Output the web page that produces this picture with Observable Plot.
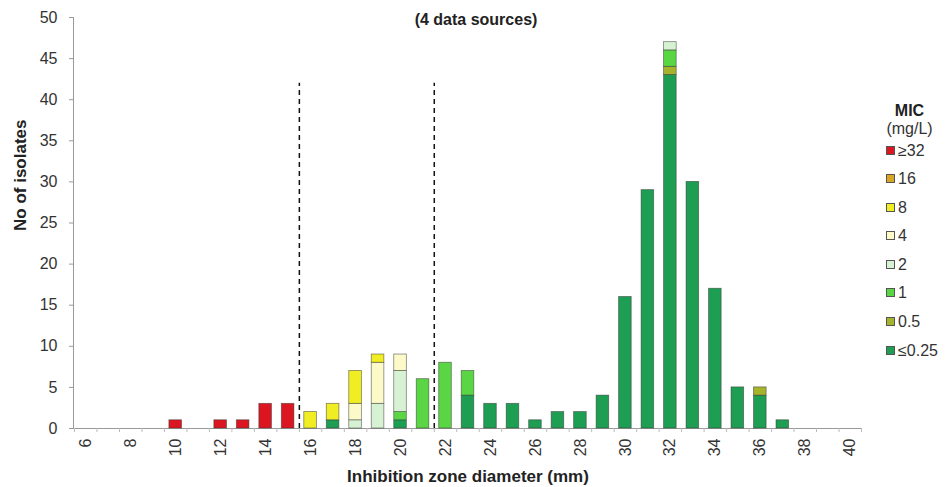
<!DOCTYPE html>
<html><head><meta charset="utf-8">
<script src="https://cdn.jsdelivr.net/npm/d3@7"></script>
<script src="https://cdn.jsdelivr.net/npm/@observablehq/plot@0.6"></script>
<style>
body{margin:0;background:#fff;font-family:"Liberation Sans",Arial,Helvetica,sans-serif;}
#wrap{position:relative;width:951px;height:487px;}
#legend{position:absolute;left:868px;top:0;width:83px;color:#333;font-size:16px;}
#legend .h{position:absolute;width:83px;text-align:center;line-height:18px;}
#legend .it{position:absolute;left:18px;height:18px;line-height:18px;white-space:nowrap;}
#legend .sw{display:inline-block;width:7px;height:7px;border:1px solid #555;margin-right:3px;vertical-align:1px;}
</style></head><body><div id="wrap"><div id="legend"></div></div>
<script>
// Inhibition zone diameters (mm) that have isolates
const zones = [10,12,13,14,15,16,17,18,19,20,21,22,23,24,25,26,27,28,29,30,31,32,33,34,35,36,37];
// Counts per MIC class (mg/L), aligned with zones
const mic_ge32 = [1,1,1,3,3,0,0,0,0,0,0,0,0,0,0,0,0,0,0,0,0,0,0,0,0,0,0];
const mic_16   = [0,0,0,0,0,0,0,0,0,0,0,0,0,0,0,0,0,0,0,0,0,0,0,0,0,0,0];
const mic_8    = [0,0,0,0,0,2,2,4,1,0,0,0,0,0,0,0,0,0,0,0,0,0,0,0,0,0,0];
const mic_4    = [0,0,0,0,0,0,0,2,5,2,0,0,0,0,0,0,0,0,0,0,0,0,0,0,0,0,0];
const mic_2    = [0,0,0,0,0,0,0,1,3,5,0,0,0,0,0,0,0,0,0,0,0,1,0,0,0,0,0];
const mic_1    = [0,0,0,0,0,0,0,0,0,1,6,8,3,0,0,0,0,0,0,0,0,2,0,0,0,0,0];
const mic_05   = [0,0,0,0,0,0,0,0,0,0,0,0,0,0,0,0,0,0,0,0,0,1,0,0,0,1,0];
const mic_le025= [0,0,0,0,0,0,1,0,0,1,0,0,4,3,3,1,2,2,4,16,29,43,30,17,5,4,1];

// stack order, bottom to top
const micLevels = ["≤0.25","0.5","1","2","4","8","16","≥32"];
const micSeries = [mic_le025, mic_05, mic_1, mic_2, mic_4, mic_8, mic_16, mic_ge32];
const micColors = ["#1e9e52","#a6b42c","#5ad644","#d6f2d2","#fbfac8","#f0ee22","#d9a624","#dc1620"];
const legendOrder = ["≥32","16","8","4","2","1","0.5","≤0.25"];

const breakpoints = [15.5, 21.5];   // dashed lines between categories
const xTicks = d3.range(6, 41, 2);
const yTicks = d3.range(0, 51, 5);
const boundaries = d3.range(5.5, 41, 1);

// build stacked rectangles
const rows = [];
zones.forEach((z, i) => {
  let acc = 0;
  micSeries.forEach((s, k) => {
    const v = s[i];
    if (v > 0) { rows.push({zone: z, mic: micLevels[k], y1: acc, y2: acc + v}); acc += v; }
  });
});

const font = '"Liberation Sans",Arial,Helvetica,sans-serif';
const chart = Plot.plot({
  width: 951, height: 487,
  marginLeft: 74, marginRight: 90, marginTop: 17, marginBottom: 59,
  style: {fontFamily: font, fontSize: "16px", color: "#333", background: "#fff"},
  x: {domain: [5.5, 40.5]},
  y: {domain: [0, 50]},
  color: {domain: micLevels, range: micColors},
  marks: [
    Plot.ruleX([5.5], {stroke: "#999", dx: -1}),
    Plot.ruleY([0], {stroke: "#999"}),
    Plot.axisY({ticks: yTicks, tickSize: 5, tickPadding: 12, label: null, stroke: "#999", fill: "#333", fontSize: 16}),
    Plot.axisX({ticks: boundaries, tickSize: 4, tickFormat: () => "", label: null, stroke: "#bbb"}),
    Plot.axisX({ticks: xTicks, tickSize: 0, tickPadding: 10, tickRotate: -90, label: null, fill: "#333", fontSize: 16}),
    Plot.rect(rows, {x1: d => d.zone - 0.28, x2: d => d.zone + 0.28, y1: "y1", y2: "y2", fill: "mic", stroke: "#333", strokeOpacity: 0.6, strokeWidth: 0.8}),
    Plot.ruleX(breakpoints, {y1: 0, y2: 42, stroke: "#111", strokeWidth: 1.5, strokeDasharray: "5,4"}),
    Plot.text(["No of isolates"], {frameAnchor: "left", rotate: -90, dx: -54, dy: 8, fontWeight: "bold", fontSize: 17, fill: "#222"}),
    Plot.text(["Inhibition zone diameter (mm)"], {frameAnchor: "bottom", dy: 53, fontWeight: "bold", fontSize: 17, fill: "#222"}),
    Plot.text(["(4 data sources)"], {frameAnchor: "top", dy: -4, dx: 8, fontWeight: "bold", fontSize: 16, fill: "#222"})
  ]
});
document.getElementById("wrap").prepend(chart);

// legend
const lg = document.getElementById("legend");
const colorOf = Object.fromEntries(micLevels.map((m, i) => [m, micColors[i]]));
let html = '<div class="h" style="top:102px;font-weight:bold;color:#222">MIC</div>' +
           '<div class="h" style="top:120px">(mg/L)</div>';
const itemY = [151, 179, 208, 236, 265, 293, 322, 351];
legendOrder.forEach((m, i) => {
  html += `<div class="it" style="top:${itemY[i] - 9}px"><span class="sw" style="background:${colorOf[m]}"></span>${m}</div>`;
});
lg.innerHTML = html;
</script>
</body></html>
